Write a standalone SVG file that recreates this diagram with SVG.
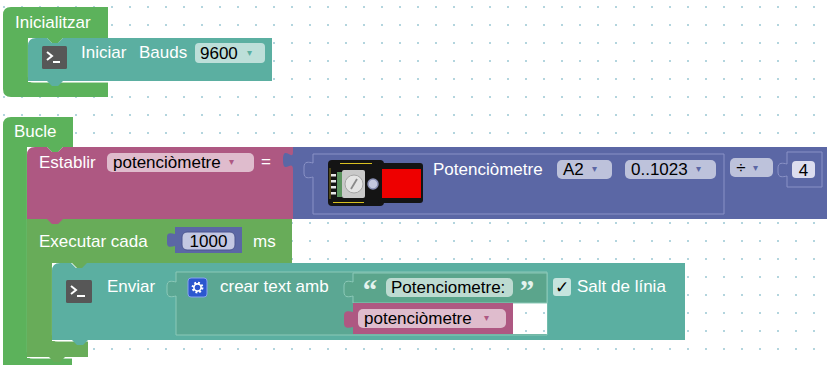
<svg xmlns="http://www.w3.org/2000/svg" width="827" height="365" viewBox="0 0 827 365">
  <defs>
    <pattern id="grid" x="3" y="6" width="18" height="18" patternUnits="userSpaceOnUse">
      <rect x="0" y="0" width="2" height="2" fill="#b3d5de"/>
    </pattern>
    <style>
      text { font-family: "Liberation Sans", Arial, sans-serif; font-size: 17px; }
      .lbl { fill: #ffffff; }
      .val { fill: #000000; }
      .field { fill: #ffffff; fill-opacity: 0.6; }
      .arr { font-family: "DejaVu Sans", sans-serif; font-size: 10px; }
      .quote { font-family: "Liberation Serif", serif; font-weight: bold; font-size: 29px; fill: #e4f3ee; }
      .hat { fill: #5cb25b; }
      .loop { fill: #68ac59; }
      .serial { fill: #5bafa1; }
      .txt { fill: #5ba793; stroke: #8cc9b8; stroke-width: 1; }
      .txtlit { fill: #5ba58c; stroke: #8cc9b8; stroke-width: 1; }
      .var { fill: #ae5882; }
      .math { fill: #5b67a5; }
      .mathin { fill: #5b67a5; stroke: #8a92c6; stroke-width: 1; }
      .hl { fill: none; stroke: #ffffff; stroke-opacity: 0.55; stroke-width: 1.2; }
      .icon { fill: #575757; }
    </style>
  </defs>

  <!-- workspace -->
  <rect width="827" height="365" fill="#ffffff"/>
  <rect width="827" height="365" fill="url(#grid)"/>

  <!-- setup block -->
  <g id="inicialitzar">
    <path class="hat" d="M3,15 Q3,7 11,7 H108 V38 H63 l-5,5 h-6 l-5,-5 H28 V82 H108 V97 H11 Q3,97 3,89 Z"/>
    <path class="hl" d="M28.5,40 V77 Q28.5,82.5 34,82.5 H108"/>
    <text class="lbl" x="15" y="28">Inicialitzar</text>
  </g>

  <g id="iniciar-bauds">
    <path class="serial" d="M28,46 Q28,38 36,38 H47 l5,5 h6 l5,-5 H272 V81 H63 l-5,5 h-6 l-5,-5 H28 Z"/>
    <rect class="icon" x="42" y="46" width="25" height="23" rx="1.5"/>
    <polyline points="47,52 52,56 47,60" fill="none" stroke="#fff" stroke-width="2"/>
    <line x1="53" y1="62" x2="60" y2="62" stroke="#fff" stroke-width="2"/>
    <text class="lbl" x="81" y="58">Iniciar</text>
    <text class="lbl" x="139" y="58">Bauds</text>
    <rect class="field" x="195" y="43" width="70" height="20" rx="4"/>
    <text class="val" x="200" y="59">9600</text>
    <text class="arr" x="247" y="56" fill="#5bafa1">▾</text>
  </g>

  <!-- loop block -->
  <g id="bucle">
    <path class="hat" d="M3,125 Q3,117 11,117 H73 V147 H63 l-5,5 h-6 l-5,-5 H27 V358 H72 V370 H3 Z"/>
    <path class="hl" d="M27.5,150 V352 Q27.5,358.5 33,358.5 H72"/>
    <text class="lbl" x="14" y="137">Bucle</text>
  </g>

  <g id="executar-cada">
    <path class="loop" d="M27,219 H292 V263 H88 l-5,5 h-6 l-5,-5 H52 V341 H88 V357 H65 l-5,5 h-6 l-5,-5 H27 Z"/>
    <path class="hl" d="M52.5,266 V335 Q52.5,341.5 58,341.5 H88"/>
    <text class="lbl" x="39" y="247">Executar cada</text>
    <text class="lbl" x="253" y="247">ms</text>
  </g>

  <g id="num-1000">
    <path class="math" d="M175,227 H242 V253 H175 V246 c-4,1 -8,2 -8,-3 v-6 c0,-5 4,-4 8,-3 Z"/>
    <rect x="182" y="232" width="53" height="18" rx="5" fill="#c3c7e2" stroke="#4c5790" stroke-width="1"/>
    <text class="val" x="208.5" y="247" text-anchor="middle">1000</text>
  </g>

  <g id="enviar">
    <path class="serial" d="M52,271 Q52,263 60,263 H71 l5,5 h6 l5,-5 H685 V340 H88 l-5,5 h-6 l-5,-5 H52 Z"/>
    <rect class="icon" x="66" y="280" width="26" height="23" rx="1.5"/>
    <polyline points="71,286 76,290 71,294" fill="none" stroke="#fff" stroke-width="2"/>
    <line x1="77" y1="296" x2="85" y2="296" stroke="#fff" stroke-width="2"/>
    <text class="lbl" x="107" y="292">Enviar</text>
    <rect x="553" y="278" width="18" height="18" rx="3" fill="#c6e4de"/>
    <text x="562" y="293" text-anchor="middle" font-family="DejaVu Sans, sans-serif" font-size="15" fill="#000">✓</text>
    <text class="lbl" x="577" y="292">Salt de línia</text>
  </g>

  <g id="crear-text">
    <path class="txt" d="M176,272 H547 V335 H176 V296 c-4,1 -9,2 -9,-4 v-6 c0,-6 5,-5 9,-4 Z"/>
    <rect x="188" y="278" width="19" height="19" rx="3" fill="#2c57cf" stroke="#86a2ee" stroke-width="1"/>
    <circle cx="197.5" cy="287.5" r="4.6" fill="none" stroke="#ffffff" stroke-width="2.6" stroke-dasharray="1.8 1.8"/>
    <circle cx="197.5" cy="287.5" r="3.6" fill="none" stroke="#ffffff" stroke-width="1.6"/>
    <text class="lbl" x="220" y="292">crear text amb</text>
    <!-- empty slot beside the variable -->
    <rect x="513" y="303" width="34" height="31" fill="#ffffff"/>
    <rect x="513" y="303" width="34" height="31" fill="url(#grid)"/>
  </g>

  <g id="text-potenciometre">
    <path class="txtlit" d="M353,273 H547 V303 H353 V296 c-4,1 -9,2 -9,-4 v-6 c0,-6 5,-5 9,-4 Z"/>
    <text class="quote" x="370" y="300" text-anchor="middle">“</text>
    <rect class="field" x="386" y="278" width="127" height="19" rx="5"/>
    <text class="val" x="391" y="293">Potenciometre:</text>
    <text class="quote" x="527" y="300" text-anchor="middle">”</text>
  </g>

  <g id="var-potenciometre">
    <path class="var" d="M353,303 H513 V334 H353 V327 c-4,1 -9,2 -9,-4 v-7 c0,-6 5,-5 9,-4 Z"/>
    <rect class="field" x="358" y="309" width="148" height="19" rx="5"/>
    <text class="val" x="364" y="324">potenciòmetre</text>
    <text class="arr" x="484" y="321" fill="#ae5882">▾</text>
  </g>

  <g id="establir">
    <path class="var" d="M27,155 Q27,147 35,147 H47 l5,5 h6 l5,-5 H293 V219 H63 l-5,5 h-6 l-5,-5 H27 Z"/>
    <text class="lbl" x="39" y="168">Establir</text>
    <rect class="field" x="107" y="153" width="147" height="19" rx="5"/>
    <text class="val" x="113" y="168">potenciòmetre</text>
    <text class="arr" x="229" y="165" fill="#ae5882">▾</text>
    <text class="lbl" x="261" y="167">=</text>
  </g>

  <g id="dividir">
    <path class="math" d="M830,147 H293 V152 c0,10 -10,-8 -10,8 s10,-2 10,10 V219 H830 Z"/>
    <rect class="field" x="730" y="158" width="43" height="19" rx="5"/>
    <text class="val" x="741" y="173" text-anchor="middle">÷</text>
    <text class="arr" x="753" y="171" fill="#5b67a5">▾</text>
  </g>

  <g id="num-4">
    <path class="mathin" d="M787,152 H822 V187 H787 V176 c-4,1 -9,2 -9,-4 v-4 c0,-6 5,-5 9,-4 Z"/>
    <rect x="792" y="161" width="23" height="17" rx="4" fill="#dcddef"/>
    <text class="val" x="803.5" y="176" text-anchor="middle">4</text>
  </g>

  <g id="potenciometre-sensor">
    <path class="mathin" d="M313,154 H724 V214 H313 V177 c-4,1 -9,2 -9,-4 v-6 c0,-6 5,-5 9,-4 Z"/>
    <!-- module picture -->
    <rect x="328" y="160" width="56" height="46" rx="4" fill="#141414"/>
    <rect x="378" y="163" width="45" height="40" rx="3" fill="#141414"/>
    <rect x="382" y="169" width="39" height="29" fill="#ee0000"/>
    <rect x="337" y="172" width="5" height="25" fill="#5c9460"/>
    <rect x="331" y="174" width="5" height="2.5" fill="#e8e8e8"/>
    <rect x="331" y="180" width="5" height="2.5" fill="#e8e8e8"/>
    <rect x="331" y="186" width="5" height="2.5" fill="#e8e8e8"/>
    <rect x="331" y="192" width="5" height="2.5" fill="#e8e8e8"/>
    <rect x="342" y="170" width="23" height="28" rx="2" fill="#c9c9c9"/>
    <circle cx="354" cy="184" r="9" fill="#e4e4e4" stroke="#a5a5a5" stroke-width="1"/>
    <line x1="351" y1="189" x2="357" y2="179" stroke="#8a8a8a" stroke-width="1.8"/>
    <circle cx="373" cy="184" r="5" fill="#c4c8de" stroke="#8a90b4" stroke-width="1.5"/>
    <line x1="340" y1="163.5" x2="372" y2="163.5" stroke="#d8c020" stroke-width="1"/>
    <line x1="333" y1="202.5" x2="364" y2="202.5" stroke="#d8c020" stroke-width="1"/>
    <line x1="330" y1="168" x2="330" y2="199" stroke="#d8c020" stroke-width="0.6"/>
    <text class="lbl" x="433" y="175">Potenciòmetre</text>
    <rect class="field" x="557" y="160" width="55" height="19" rx="5"/>
    <text class="val" x="563" y="175">A2</text>
    <text class="arr" x="592" y="172" fill="#5b67a5">▾</text>
    <rect class="field" x="625" y="160" width="91" height="19" rx="5"/>
    <text class="val" x="631" y="175">0..1023</text>
    <text class="arr" x="696" y="172" fill="#5b67a5">▾</text>
  </g>
</svg>
